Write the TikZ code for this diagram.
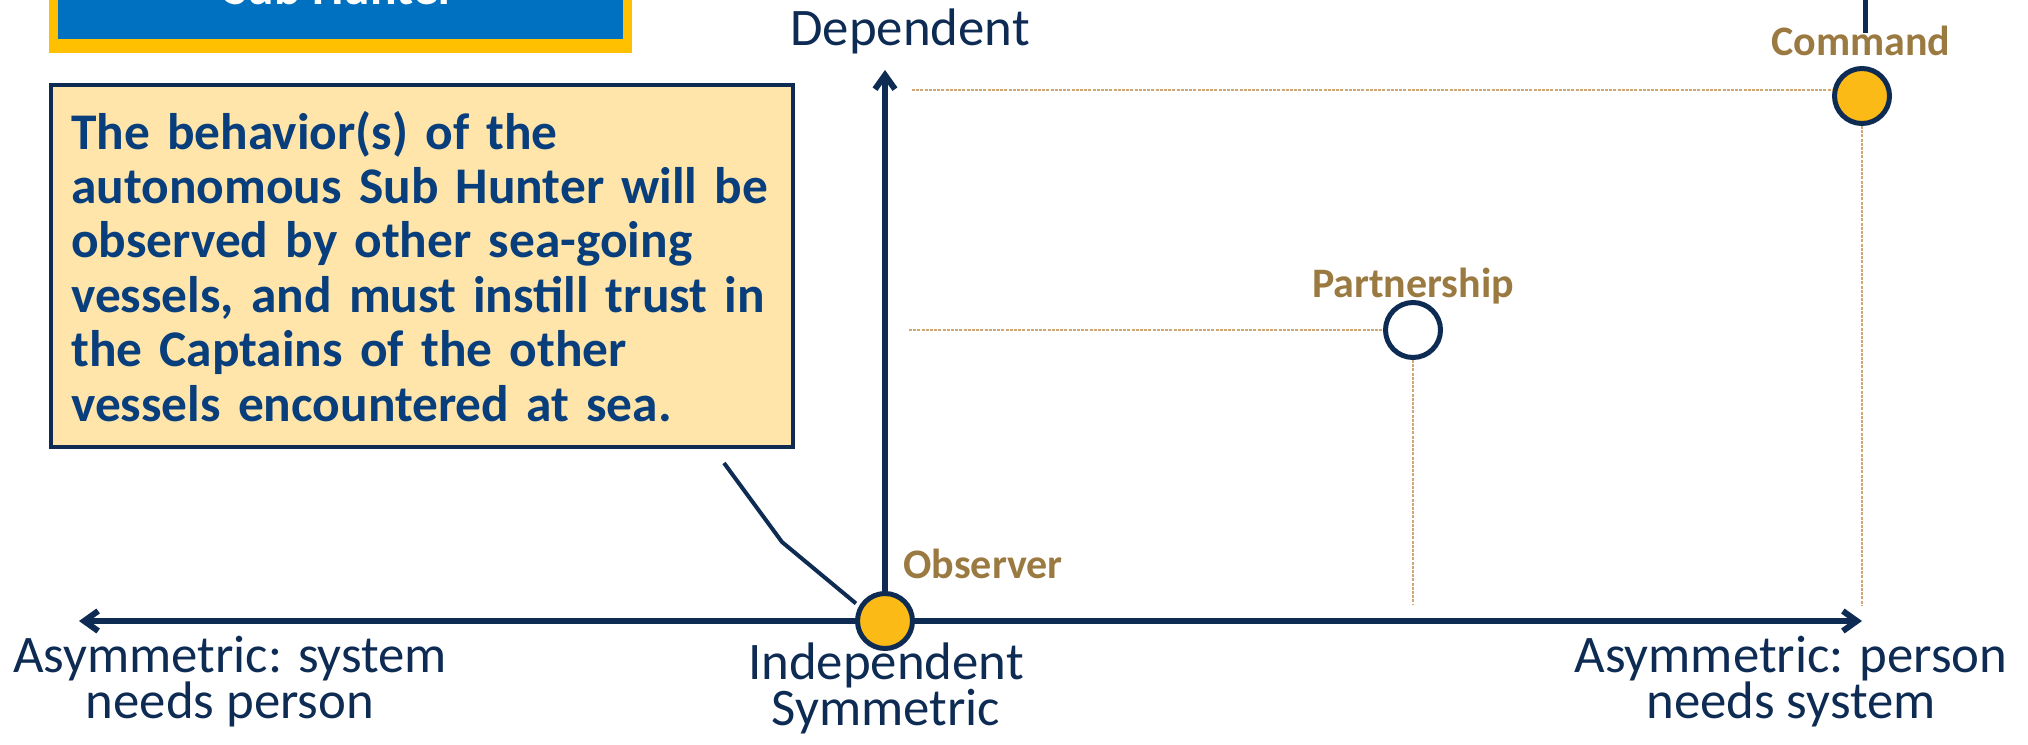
\documentclass[tikz,border=0pt]{standalone}
\usepackage{fontspec}
\setmainfont{Carlito}
\newfontfamily\calloutfont{Carlito}[WordSpace=0.75]
\usetikzlibrary{arrows.meta}
\definecolor{AxisNavy}{RGB}{13,43,83}
\definecolor{CalloutBlue}{RGB}{8,62,124}
\definecolor{CalloutTan}{RGB}{255,229,170}
\definecolor{LabelBrown}{RGB}{155,122,66}
\definecolor{DotAmber}{RGB}{251,186,22}
\definecolor{GuideTan}{RGB}{208,168,118}
\definecolor{HunterBlue}{RGB}{0,112,192}
\definecolor{HunterYellow}{RGB}{255,192,0}

\begin{document}
\begin{tikzpicture}[x=0.5pt,y=0.5pt,yscale=-1,xscale=1,
		axis/.style={draw=AxisNavy, line width=3pt},
		guide/.style={draw=GuideTan, line width=0.6pt, dash pattern=on 1.5pt off 0.6pt},
		level/.style={circle, draw=AxisNavy, line width=2.5pt, minimum size=27.5pt, inner sep=0pt},
		levellabel/.style={text=LabelBrown, font=\fontsize{21}{21}\selectfont\bfseries, inner sep=0pt},
		axislabel/.style={text=AxisNavy, font=\fontsize{26.4}{23}\selectfont, align=center, inner sep=0pt},
		callout/.style={draw=AxisNavy, fill=CalloutTan, line width=2.2pt, align=left, text=CalloutBlue,
			font=\calloutfont\fontsize{25.7}{27.2}\selectfont\bfseries, text width=351pt, minimum height=181pt, inner xsep=10pt}]
		% Set diagram size to 2028 x 744
		\useasboundingbox (0,0) rectangle (2028,744);
		\clip (0,0) rectangle (2028,744);

		% The Sub Hunter box, cut off at the top
		\fill[HunterYellow] (49,-40) rectangle (632,53);
		\fill[HunterBlue] (58,-40) rectangle (623,39);
		\node[text=white, font=\fontsize{24.8}{24.8}\selectfont\bfseries, inner sep=0pt, anchor=base] (hunter) at (340,4) {Sub Hunter};

		% End points of the axes
		\coordinate (origin) at (885,621);
		\coordinate (leftend) at (79,621);
		\coordinate (rightend) at (1862,621);
		\coordinate (topend) at (885,70);

		% Draw the guide lines of the levels
		\coordinate (cmdguide) at (912,90);
		\coordinate (cmdfoot) at (1862,605);
		\coordinate (partguide) at (909,330);
		\coordinate (partfoot) at (1413,605);

		% Horizontal and vertical axis
		\draw[axis, {Straight Barb[length=7pt,width=10pt]}-{Straight Barb[length=7pt,width=10pt]}] (leftend) -- (rightend);
		\draw[axis, -{Straight Barb[length=7pt,width=10pt]}] (origin) -- (topend);

		% The three levels
		\node[level, fill=DotAmber] (observer) at (origin) {};
		\node[level, fill=white] (partner) at (1413,330) {};
		\node[level, fill=DotAmber] (command) at (1862,96) {};

		\draw[guide] (cmdguide) -- (cmdguide -| command.west);
		\draw[guide] (command.south) -- (cmdfoot);
		\draw[guide] (partguide) -- (partner.west);
		\draw[guide] (partner.south) -- (partfoot);

		% Labels of the levels
		\node[levellabel, anchor=base] (cmdlabel) at (1861,55) {Command};
		\node[levellabel, anchor=base] (partlabel) at (1413,297) {Partnership};
		\node[levellabel, anchor=base west] (obslabel) at (903,578) {Observer};

		% Labels of the axes
		\node[axislabel, anchor=base] (deplabel) at (910,45) {Dependent};
		\node[axislabel, anchor=north] (indlabel) at (886,642) {Independent\\Symmetric};
		\node[axislabel, anchor=north] (leftlabel) at (230,636) {Asymmetric: system\\needs person};
		\node[axislabel, anchor=north] (rightlabel) at (1791,636) {Asymmetric: person\\needs system};

		% The callout and its pointer
		\node[callout, anchor=north west] (behavior) at (49,83) {The behavior(s) of the\\autonomous Sub Hunter will be\\observed by other sea-going\\vessels, and must instill trust in\\the Captains of the other\\vessels encountered at sea.};
		\coordinate (pointerstart) at (724,463);
		\coordinate (pointerbend) at (782,542);
		\draw[draw=AxisNavy, line width=2pt, shorten >=2pt] (pointerstart) -- (pointerbend) -- (observer.150);

		% Connector coming in from above Command
		\coordinate (feedtop) at (1865,0);
		\coordinate (feedfoot) at (1865,33);
		\draw[axis, line width=2.5pt] (feedtop) -- (feedfoot);
	\end{tikzpicture}
\end{document}
